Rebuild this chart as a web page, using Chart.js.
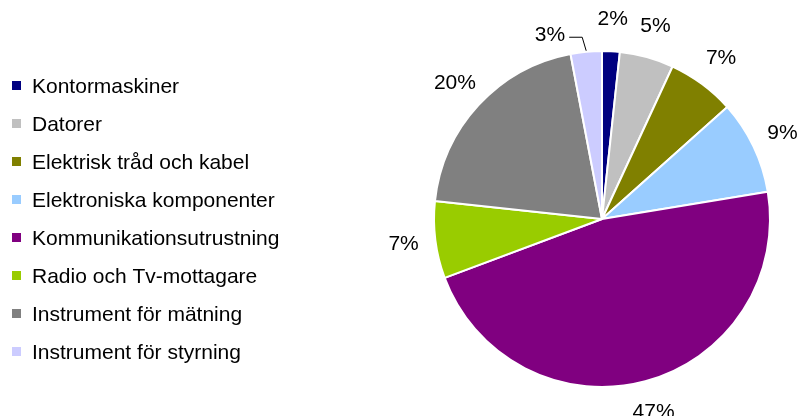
<!DOCTYPE html>
<html>
<head>
<meta charset="utf-8">
<script src="https://cdn.jsdelivr.net/npm/chart.js@4/dist/chart.umd.min.js"></script>
<style>
  html, body { margin: 0; padding: 0; background: #fff; }
  #wrap { position: relative; width: 798px; height: 416px; }
</style>
</head>
<body>
<div id="wrap"><canvas id="myChart" width="798" height="416"></canvas></div>
<script>
// data (shares of total)
var categories = [
  'Kontormaskiner',
  'Datorer',
  'Elektrisk tråd och kabel',
  'Elektroniska komponenter',
  'Kommunikationsutrustning',
  'Radio och Tv-mottagare',
  'Instrument för mätning',
  'Instrument för styrning'
];
var shares = [1.7, 5.2, 6.5, 9.0, 46.9, 7.4, 20.3, 3.0];
var colors = ['#000080', '#c0c0c0', '#808000', '#99ccff', '#800080', '#99cc00', '#808080', '#ccccff'];

var FONT = '21px "Liberation Sans", Arial, sans-serif';

// legend on the left, rows centred on the pie centre
var sideLegend = {
  id: 'sideLegend',
  afterDraw: function(chart) {
    var ctx = chart.ctx;
    var arc = chart.getDatasetMeta(0).data[0];
    var rowH = 38;
    var n = chart.data.labels.length;
    var y0 = arc.y - (n - 1) / 2 * rowH;
    ctx.save();
    ctx.font = FONT;
    ctx.textBaseline = 'middle';
    ctx.textAlign = 'left';
    for (var i = 0; i < n; i++) {
      var y = y0 + i * rowH;
      ctx.fillStyle = chart.data.datasets[0].backgroundColor[i];
      ctx.fillRect(12, Math.round(y - 5), 9, 9);
      ctx.fillStyle = '#000';
      ctx.fillText(chart.data.labels[i], 32, y + 1);
    }
    ctx.restore();
  }
};

// percentage labels outside the slices
var pctLabels = {
  id: 'pctLabels',
  afterDraw: function(chart) {
    var ctx = chart.ctx;
    var meta = chart.getDatasetMeta(0);
    var vals = chart.data.datasets[0].data;
    var total = vals.reduce(function(a, b) { return a + b; }, 0);
    ctx.save();
    ctx.font = FONT;
    ctx.fillStyle = '#000';
    ctx.textBaseline = 'middle';
    var boxes = [];
    meta.data.forEach(function(a, i) {
      var txt = Math.round(vals[i] / total * 100) + '%';
      var w = ctx.measureText(txt).width;
      var mid = (a.startAngle + a.endAngle) / 2;
      var d = a.outerRadius + 32;
      boxes.push({ i: i, txt: txt, w: w, mid: mid, a: a,
        cx: a.x + Math.cos(mid) * d, cy: a.y + Math.sin(mid) * d });
    });
    // last slice crowds the first one near the top: move it aside on a leader
    var first = boxes[0], last = boxes[boxes.length - 1];
    if (last.cx + last.w / 2 + 10 > first.cx - first.w / 2) {
      var px = last.a.x + Math.cos(last.mid) * last.a.outerRadius;
      var py = last.a.y + Math.sin(last.mid) * last.a.outerRadius;
      var ly = py - 15;
      ctx.strokeStyle = '#000';
      ctx.lineWidth = 1;
      ctx.beginPath();
      ctx.moveTo(px, py - 1);
      ctx.lineTo(px - 4, ly + 0.5);
      ctx.lineTo(px - 17, ly + 0.5);
      ctx.stroke();
      last.cx = px - 21 - last.w / 2;
      last.cy = ly - 2;
    }
    ctx.textAlign = 'center';
    boxes.forEach(function(b) {
      ctx.fillText(b.txt, b.cx, b.cy);
    });
    ctx.restore();
  }
};

var ctx = document.getElementById('myChart').getContext('2d');
var myPieChart = new Chart(ctx, {
  type: 'pie',
  data: {
    labels: categories,
    datasets: [{
      data: shares,
      backgroundColor: colors,
      borderColor: '#ffffff',
      borderWidth: 2
    }]
  },
  options: {
    responsive: false,
    animation: false,
    layout: { padding: { left: 433, top: 50, right: 27, bottom: 28 } },
    plugins: {
      legend: { display: false },
      tooltip: { enabled: false }
    }
  },
  plugins: [sideLegend, pctLabels]
});
</script>
</body>
</html>
